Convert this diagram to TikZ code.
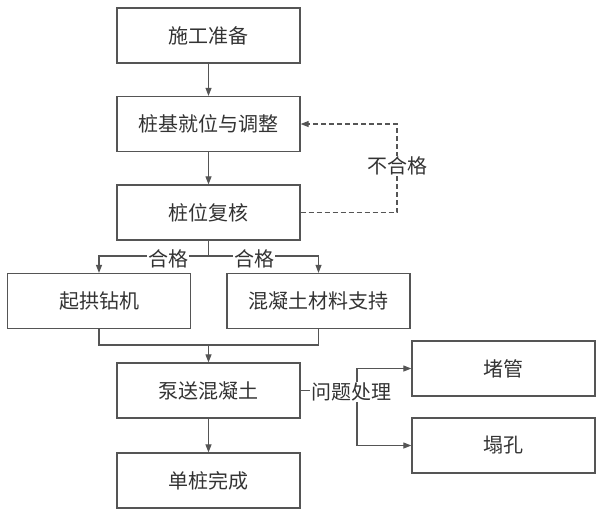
\documentclass[tikz,border=0pt]{standalone}
\usepackage{fontspec}
\setmainfont{Noto Sans CJK SC}
\usetikzlibrary{arrows.meta}
\definecolor{ln}{HTML}{555555}
\definecolor{tx}{HTML}{333333}
\begin{document}
\begin{tikzpicture}[x=1pt,y=-1pt,
  box/.style={draw=ln,line width=1.3pt,minimum width=183pt,minimum height=55pt,inner sep=0pt,text=tx,font=\fontsize{20pt}{23pt}\selectfont},
  conn/.style={draw=ln,line width=1.1pt},
  arr/.style={conn,-{Triangle[length=8pt,width=6pt]}},
  lbl/.style={fill=white,text=tx,inner sep=1pt,font=\fontsize{20pt}{23pt}\selectfont}]
\useasboundingbox (0,0) rectangle (601,512);
\fill[white] (0,0) rectangle (601,512);
\node[box] (b1) at (208.5,35.5) {施工准备};
\node[box] (b2) at (208.5,124) {桩基就位与调整};
\node[box] (b3) at (208.5,212.5) {桩位复核};
\node[box] (b4) at (99,301) {起拱钻机};
\node[box] (b5) at (318.5,301) {混凝土材料支持};
\node[box] (b6) at (208.5,390.5) {泵送混凝土};
\node[box] (b7) at (208.5,480.5) {单桩完成};
\node[box] (b8) at (503.5,368.5) {堵管};
\node[box] (b9) at (503.5,445.5) {塌孔};
\draw[arr] (b1) -- (b2);
\draw[arr] (b2) -- (b3);
\coordinate (s1) at (208.5,256);
\draw[conn] (b3.south) -- (s1);
\draw[arr] (s1) -| (b4.north);
\draw[arr] (s1) -| (b5.north);
\node[lbl] (h1) at (168,259) {合格};
\node[lbl] (h2) at (254,259) {合格};
\coordinate (m1) at (208.5,345);
\draw[conn] (b4.south) |- (m1) -| (b5.south);
\draw[arr] (m1) -- (b6.north);
\draw[arr] (b6) -- (b7);
\coordinate (d1) at (397,212.5);
\coordinate (d2) at (397,124);
\draw[conn,dashed,dash pattern=on 5pt off 3pt,-{Triangle[length=8pt,width=6pt]}] (b3.east) -- (d1) -- (d2) -- (b2.east);
\node[lbl] (nf) at (397,166) {不合格};
\coordinate (v) at (357,390.5);
\draw[conn] (b6.east) -- (v);
\draw[arr] (v) |- (b8.west);
\draw[arr] (v) |- (b9.west);
\node[lbl] (q) at (351,392) {问题处理};
\end{tikzpicture}
\end{document}
